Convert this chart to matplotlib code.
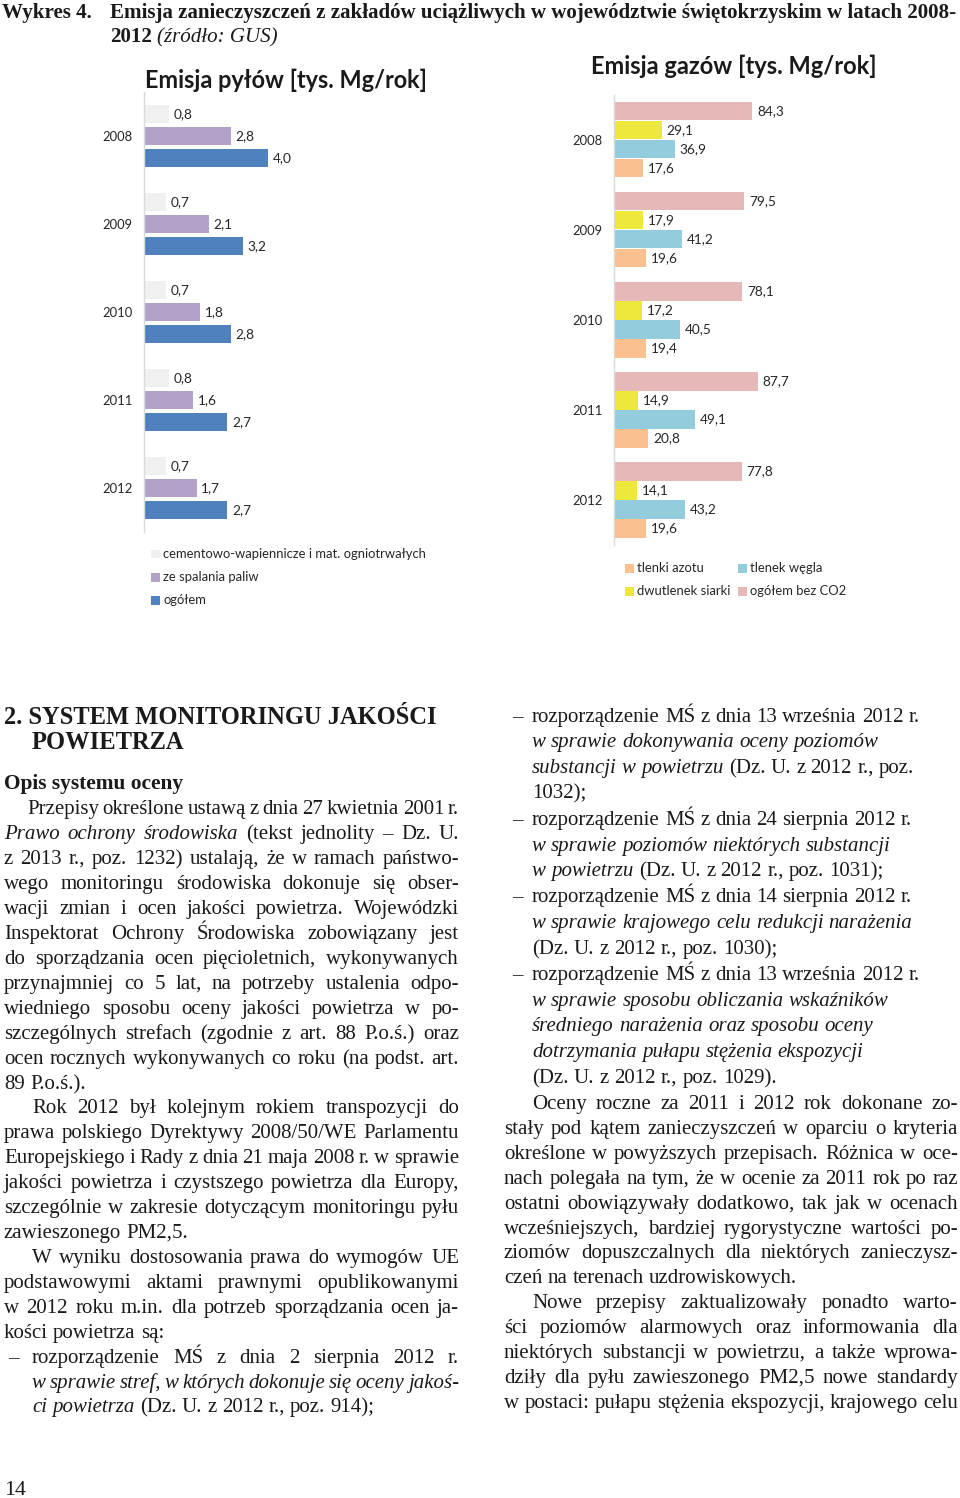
import matplotlib
matplotlib.use("Agg")
import numpy as np
import matplotlib.pyplot as plt
from matplotlib.patches import Rectangle

# --- data ---
years = ["2008", "2009", "2010", "2011", "2012"]

dust_labels = ["cementowo-wapiennicze i mat. ogniotrwałych", "ze spalania paliw", "ogółem"]
dust_cement = [0.8, 0.7, 0.7, 0.8, 0.7]
dust_fuel = [2.8, 2.1, 1.8, 1.6, 1.7]
dust_total = [4.0, 3.2, 2.8, 2.7, 2.7]

gas_labels = ["ogółem bez CO2", "dwutlenek siarki", "tlenek węgla", "tlenki azotu"]
gas_total = [84.3, 79.5, 78.1, 87.7, 77.8]
gas_so2 = [29.1, 17.9, 17.2, 14.9, 14.1]
gas_co = [36.9, 41.2, 40.5, 49.1, 43.2]
gas_nox = [17.6, 19.6, 19.4, 20.8, 19.6]

dust_colors = ["#F0F0F0", "#B3A2C7", "#4F81BD"]
gas_colors = ["#E6B9B8", "#EEE83C", "#93CDDD", "#FAC090"]

# page text (y of line centre, x start, text with _italic_ parts, justified)
LEFT = [
    (808, 27, "Przepisy określone ustawą z dnia 27 kwietnia 2001 r.", True),
    (833, 4, "_Prawo ochrony środowiska_ (tekst jednolity – Dz. U.", True),
    (858, 4, "z 2013 r., poz. 1232) ustalają, że w ramach państwo-", True),
    (883, 4, "wego monitoringu środowiska dokonuje się obser-", True),
    (908, 4, "wacji zmian i ocen jakości powietrza. Wojewódzki", True),
    (933, 4, "Inspektorat Ochrony Środowiska zobowiązany jest", True),
    (958, 4, "do sporządzania ocen pięcioletnich, wykonywanych", True),
    (983, 4, "przynajmniej co 5 lat, na potrzeby ustalenia odpo-", True),
    (1008, 4, "wiedniego sposobu oceny jakości powietrza w po-", True),
    (1033, 4, "szczególnych strefach (zgodnie z art. 88 P.o.ś.) oraz", True),
    (1058, 4, "ocen rocznych wykonywanych co roku (na podst. art.", True),
    (1083, 4, "89 P.o.ś.).", False),
    (1107, 32, "Rok 2012 był kolejnym rokiem transpozycji do", True),
    (1132, 4, "prawa polskiego Dyrektywy 2008/50/WE Parlamentu", True),
    (1157, 4, "Europejskiego i Rady z dnia 21 maja 2008 r. w sprawie", True),
    (1182, 4, "jakości powietrza i czystszego powietrza dla Europy,", True),
    (1207, 4, "szczególnie w zakresie dotyczącym monitoringu pyłu", True),
    (1232, 4, "zawieszonego PM2,5.", False),
    (1257, 32, "W wyniku dostosowania prawa do wymogów UE", True),
    (1282, 4, "podstawowymi aktami prawnymi opublikowanymi", True),
    (1307, 4, "w 2012 roku m.in. dla potrzeb sporządzania ocen ja-", True),
    (1332, 4, "kości powietrza są:", False),
    (1357, 32, "rozporządzenie MŚ z dnia 2 sierpnia 2012 r.", True),
    (1382, 32, "_w sprawie stref, w których dokonuje się oceny jakoś-_", True),
    (1406, 32, "_ci powietrza_ (Dz. U. z 2012 r., poz. 914);", False),
]
LEFT_DASHES = [1357]

RIGHT = [
    (716, 532, "rozporządzenie MŚ z dnia 13 września 2012 r.", False),
    (741, 532, "_w sprawie dokonywania oceny poziomów_", False),
    (767, 532, "_substancji w powietrzu_ (Dz. U. z 2012 r., poz.", False),
    (792, 532, "1032);", False),
    (819, 532, "rozporządzenie MŚ z dnia 24 sierpnia 2012 r.", False),
    (845, 532, "_w sprawie poziomów niektórych substancji_", False),
    (870, 532, "_w powietrzu_ (Dz. U. z 2012 r., poz. 1031);", False),
    (896, 532, "rozporządzenie MŚ z dnia 14 sierpnia 2012 r.", False),
    (922, 532, "_w sprawie krajowego celu redukcji narażenia_", False),
    (948, 532, "(Dz. U. z 2012 r., poz. 1030);", False),
    (974, 532, "rozporządzenie MŚ z dnia 13 września 2012 r.", False),
    (1000, 532, "_w sprawie sposobu obliczania wskaźników_", False),
    (1025, 532, "_średniego narażenia oraz sposobu oceny_", False),
    (1051, 532, "_dotrzymania pułapu stężenia ekspozycji_", False),
    (1077, 532, "(Dz. U. z 2012 r., poz. 1029).", False),
    (1103, 532, "Oceny roczne za 2011 i 2012 rok dokonane zo-", True),
    (1128, 504, "stały pod kątem zanieczyszczeń w oparciu o kryteria", True),
    (1153, 504, "określone w powyższych przepisach. Różnica w oce-", True),
    (1178, 504, "nach polegała na tym, że w ocenie za 2011 rok po raz", True),
    (1203, 504, "ostatni obowiązywały dodatkowo, tak jak w ocenach", True),
    (1228, 504, "wcześniejszych, bardziej rygorystyczne wartości po-", True),
    (1252, 504, "ziomów dopuszczalnych dla niektórych zanieczysz-", True),
    (1277, 504, "czeń na terenach uzdrowiskowych.", False),
    (1302, 532, "Nowe przepisy zaktualizowały ponadto warto-", True),
    (1327, 504, "ści poziomów alarmowych oraz informowania dla", True),
    (1352, 504, "niektórych substancji w powietrzu, a także wprowa-", True),
    (1377, 504, "dziły dla pyłu zawieszonego PM2,5 nowe standardy", True),
    (1402, 504, "w postaci: pułapu stężenia ekspozycji, krajowego celu", True),
]
RIGHT_DASHES = [716, 819, 896, 974]

W, H = 960, 1498
fig = plt.figure(figsize=(W / 100, H / 100), dpi=100)
fig.patch.set_facecolor("white")
renderer = fig.canvas.get_renderer()

SANS = "Lato"
SERIF = "Liberation Serif"
INK = "#1a1a1a"
LBL = 9.8


def fx(x):
    return x / W


def fy(y):
    return 1 - y / H


def wid(t):
    return t.get_window_extent(renderer).width


def fit_text(x, y, s, target, size=12, **kw):
    t = fig.text(fx(x), fy(y), s, fontsize=size, **kw)
    t.set_fontsize(size * target / wid(t))
    return t


def fmt(v):
    return f"{v:.1f}".replace(".", ",")


# --- caption ---
cap = fit_text(110, 18, "Emisja zanieczyszczeń z zakładów uciążliwych w województwie świętokrzyskim w latach 2008-",
               842, family=SERIF, weight="bold", color=INK, va="baseline")
cs = cap.get_fontsize()
fig.text(fx(2), fy(18), "Wykres 4.", fontsize=cs, family=SERIF, weight="bold", color=INK, va="baseline")
t2012 = fig.text(fx(110), fy(42), "2012", fontsize=cs, family=SERIF, weight="bold", color=INK, va="baseline")
fig.text(fx(110 + wid(t2012) + 5), fy(42), "(źródło: GUS)", fontsize=cs, family=SERIF,
         style="italic", color=INK, va="baseline")

# --- chart 1: dust ---
fit_text(145, 80, "Emisja pyłów [tys. Mg/rok]", 282, family=SANS, weight="bold", color=INK, va="center")
ax1 = fig.add_axes([fx(144), fy(532), (453 - 144) / W, (532 - 92) / H])
base = np.arange(len(years)) + 0.5
for vals, c, off in zip([dust_cement, dust_fuel, dust_total], dust_colors, [-0.25, 0.0, 0.25]):
    bars = ax1.barh(base + off, vals, height=0.195, color=c, linewidth=0)
    ax1.bar_label(bars, labels=[fmt(v) for v in vals], padding=3.5, fontsize=LBL,
                  family=SANS, color="#262626")
ax1.set_xlim(0, 10)
ax1.set_ylim(len(years), 0)

# --- chart 2: gases ---
fit_text(591, 66, "Emisja gazów [tys. Mg/rok]", 285, family=SANS, weight="bold", color=INK, va="center")
ax2 = fig.add_axes([fx(614), fy(545), (942 - 614) / W, (545 - 94.5) / H])
offs = (np.arange(4) - 1.5) * 0.211
for vals, c, off in zip([gas_total, gas_so2, gas_co, gas_nox], gas_colors, offs):
    bars = ax2.barh(base + off, vals, height=0.207, color=c, linewidth=0)
    ax2.bar_label(bars, labels=[fmt(v) for v in vals], padding=3.5, fontsize=LBL,
                  family=SANS, color="#262626")
ax2.set_xlim(0, 200)
ax2.set_ylim(len(years), 0)

for ax in (ax1, ax2):
    ax.set_yticks(base, years)
    ax.set_xticks([])
    ax.tick_params(axis="y", length=0, pad=8, labelsize=9.4, labelcolor="#262626")
    for lab in ax.get_yticklabels():
        lab.set_family(SANS)
    for sp in ("top", "right", "bottom"):
        ax.spines[sp].set_visible(False)
    ax.spines["left"].set_color("#D9D9D9")
    ax.spines["left"].set_linewidth(1.0)
    ax.set_facecolor("none")


def legend_item(x, y, label, color):
    fig.add_artist(Rectangle((fx(x), fy(y + 4.5)), 9 / W, 9 / H, transform=fig.transFigure,
                             facecolor=color, edgecolor="none"))
    fig.text(fx(x + 12), fy(y), label, fontsize=9.4, family=SANS, color="#262626", va="center")


for i, (lab, c) in enumerate(zip(dust_labels, dust_colors)):
    legend_item(151, 554 + 23 * i, lab, c)

gas_slots = {"tlenki azotu": (625, 568), "tlenek węgla": (738, 568),
             "dwutlenek siarki": (625, 591), "ogółem bez CO2": (738, 591)}
for lab, c in zip(gas_labels, gas_colors):
    x, y = gas_slots[lab]
    legend_item(x, y, lab, c)

# --- article text ---
ref = fig.text(0, 0, "(Dz. U. z 2012 r., poz. 1030);", fontsize=14, family=SERIF)
BODY = 14 * 241 / wid(ref) * 1.02
ref.remove()


def set_line(y, x0, x1, src, justify, size=BODY):
    words = []
    for k, part in enumerate(src.split("_")):
        st = "italic" if k % 2 else "normal"
        words += [(w, st) for w in part.split()]
    arts = [fig.text(0, fy(y + 6), w, fontsize=size, family=SERIF, style=st,
                     color=INK, va="baseline") for w, st in words]
    widths = [wid(a) for a in arts]
    n = max(len(arts) - 1, 1)
    min_gap = size * 1.389 * 0.16
    if justify and (x1 - x0 - sum(widths)) / n < min_gap:
        k = (x1 - x0 - n * min_gap) / sum(widths)
        for a in arts:
            a.set_fontsize(size * k)
        widths = [wid(a) for a in arts]
    gap = (x1 - x0 - sum(widths)) / n if justify else size * 1.389 * 0.25
    x = x0
    for a, w in zip(arts, widths):
        a.set_x(fx(x))
        x += w + gap


for y, x0, s, j in LEFT:
    set_line(y, x0, 459, s, j)
for y in LEFT_DASHES:
    fig.text(fx(8), fy(y + 6), "–", fontsize=BODY, family=SERIF, color=INK, va="baseline")
for y, x0, s, j in RIGHT:
    set_line(y, x0, 958, s, j)
for y in RIGHT_DASHES:
    fig.text(fx(512), fy(y + 6), "–", fontsize=BODY, family=SERIF, color=INK, va="baseline")

fit_text(4, 724, "2. SYSTEM MONITORINGU JAKOŚCI", 433, family=SERIF, weight="bold", color=INK, va="baseline")
h2 = fig.texts[-1].get_fontsize()
fig.text(fx(32), fy(749), "POWIETRZA", fontsize=h2, family=SERIF, weight="bold", color=INK, va="baseline")
fit_text(4, 789, "Opis systemu oceny", 179, family=SERIF, weight="bold", color=INK, va="baseline")
fit_text(4, 1495, "14", 22, family=SERIF, color=INK, va="baseline")

fig.savefig("out.png", dpi=100, facecolor="white")
